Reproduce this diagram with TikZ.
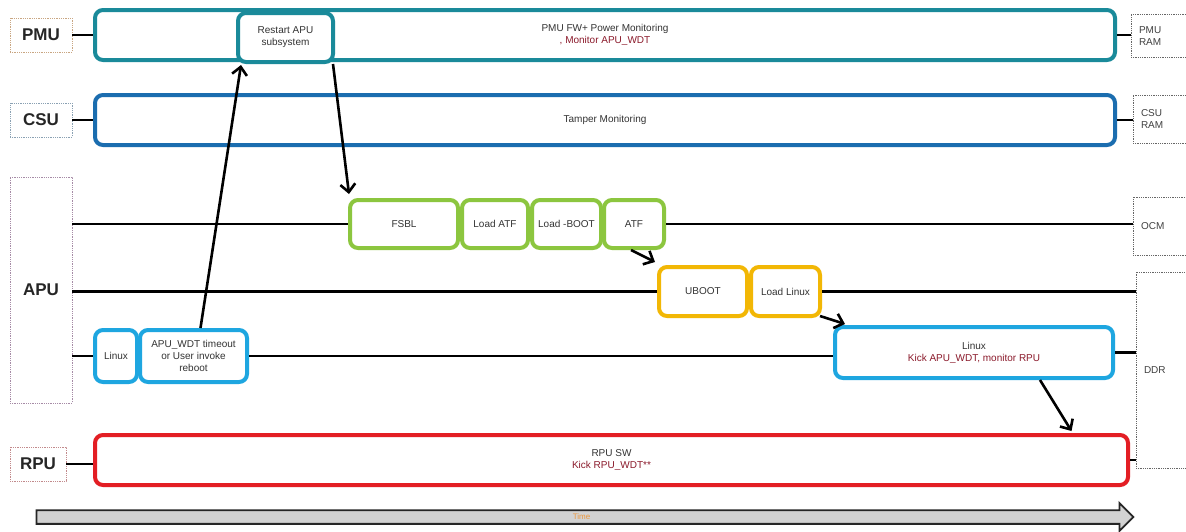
\documentclass[tikz,border=0pt]{standalone}
\usepackage{fontspec}
\setmainfont{Liberation Sans}
\usetikzlibrary{arrows.meta,shapes.arrows,calc}
\definecolor{cteal}{RGB}{26,138,154}
\definecolor{cblue}{RGB}{27,109,175}
\definecolor{cgreen}{RGB}{140,198,63}
\definecolor{cyell}{RGB}{242,183,5}
\definecolor{ccyan}{RGB}{30,166,224}
\definecolor{cred}{RGB}{227,30,36}
\definecolor{dred}{RGB}{139,26,43}
\definecolor{ctime}{RGB}{235,150,60}
\tikzset{
  sm/.style={font=\fontsize{10}{12}\selectfont, align=center, text=black!80},
  lab/.style={draw=gray!70, densely dotted, line width=0.8pt, font=\fontsize{17}{19}\selectfont\bfseries, text=black!85, inner sep=0pt},
  mem/.style={draw=gray!80!black, densely dotted, line width=0.8pt, font=\fontsize{10}{12}\selectfont, text=black!75, inner sep=0pt},
  stage/.style={rounded corners=8pt, line width=4pt, fill=white, sm, inner sep=1pt},
  link/.style={line width=2.8pt, black},
  flow/.style={line width=2.6pt, black, -{Straight Barb[length=8pt,width=15pt,line width=2.6pt]}},
}
\begin{document}
\begin{tikzpicture}[x=1pt,y=-1pt]
\useasboundingbox[fill=white] (0,0) rectangle (1186,531);
% row labels
\node[lab, minimum width=62, minimum height=34, draw=orange!40!gray!70] (pmulab) at (41,35) {PMU};
\node[lab, minimum width=62, minimum height=34, draw=cblue!40!gray!70] (csulab) at (41,120) {CSU};
\node[lab, minimum width=62, minimum height=226, draw=violet!30!gray!70] (apulab) at (41,290) {APU};
\node[lab, minimum width=56, minimum height=34, draw=cred!40!gray!70] (rpulab) at (38,464) {RPU};
% memories
\node[mem, minimum width=60, minimum height=43, text width=44, align=left] (pmuram) at (1161,36) {PMU\\RAM};
\node[mem, minimum width=60, minimum height=48, text width=44, align=left] (csuram) at (1163,119) {CSU\\RAM};
\node[mem, minimum width=60, minimum height=58, text width=44, align=left] (ocm) at (1163,226) {OCM};
\node[mem, minimum width=56, minimum height=196, text width=40, align=left] (ddr) at (1164,370) {DDR};
% big lanes
\node[stage, draw=cteal, minimum width=1020, minimum height=50] (pmu) at (605,35) {PMU FW+ Power Monitoring\\\textcolor{dred}{, Monitor APU\_WDT}};
\node[stage, draw=cblue, minimum width=1020, minimum height=50] (csu) at (605,120) {Tamper Monitoring};
\node[stage, draw=cred, minimum width=1033, minimum height=50] (rpu) at (611.5,460) {RPU SW\\\textcolor{dred}{Kick RPU\_WDT**}};
\node[stage, draw=cteal, minimum width=95, minimum height=49] (restart) at (285.5,37.5) {Restart APU\\subsystem};
% APU stages
\node[stage, draw=cgreen, minimum width=108, minimum height=48] (fsbl) at (404,224) {FSBL};
\node[stage, draw=cgreen, minimum width=66, minimum height=48] (loadatf) at (495,224) {Load ATF};
\node[stage, draw=cgreen, minimum width=69, minimum height=48] (loadboot) at (566.5,224) {Load -BOOT};
\node[stage, draw=cgreen, minimum width=60, minimum height=48] (atf) at (634,224) {ATF};
\node[stage, draw=cyell, minimum width=88, minimum height=49] (uboot) at (703,291.5) {UBOOT};
\node[stage, draw=cyell, minimum width=69, minimum height=49] (loadlinux) at (785.5,291.5) {Load Linux};
\node[stage, draw=ccyan, minimum width=42, minimum height=52] (linuxs) at (116,356) {Linux};
\node[stage, draw=ccyan, minimum width=107, minimum height=52] (apuwdt) at (193.5,356) {APU\_WDT timeout\\or User invoke\\reboot};
\node[stage, draw=ccyan, minimum width=278, minimum height=51] (linuxb) at (974,352.5) {Linux\\\textcolor{dred}{Kick APU\_WDT, monitor RPU}};
% lane links
\draw[link] (pmulab.east) -- (pmu.west);
\draw[link] (pmu.east) -- (pmuram.west |- pmu.east);
\draw[link] (csulab.east) -- (csu.west);
\draw[link] (csu.east) -- (csuram.west |- csu.east);
\draw[link] (rpulab.east) -- (rpu.west |- rpulab.east);
\draw[link] (rpu.east) -- (ddr.west |- rpu.east);
\draw[link] (apulab.east |- fsbl.west) -- (fsbl.west);
\draw[link] (atf.east) -- (ocm.west |- atf.east);
\draw[link] (apulab.east |- uboot.west) -- (uboot.west);
\draw[link] (loadlinux.east) -- (ddr.west |- loadlinux.east);
\draw[link] (apulab.east |- linuxs.west) -- (linuxs.west);
\draw[link] (apuwdt.east) -- (linuxb.west |- apuwdt.east);
\draw[link] (linuxb.east) -- (ddr.west |- linuxb.east);
% flow arrows
\draw[flow] ([xshift=7pt]apuwdt.north) -- ([xshift=5pt,yshift=-1pt]restart.south west);
\draw[flow] ([xshift=-2pt]restart.south east) -- ([xshift=1pt,yshift=4pt]fsbl.north west);
\draw[flow] ([xshift=-3pt]atf.south) -- ([xshift=-2pt,yshift=3pt]uboot.north west);
\draw[flow] ([xshift=-2pt,yshift=2pt]loadlinux.south east) -- ([xshift=12pt,yshift=1pt]linuxb.north west);
\draw[flow] ([xshift=66pt]linuxb.south) -- ([xshift=460pt,yshift=2pt]rpu.north);
% time arrow
\node[single arrow, draw=black!85, line width=1.8pt, fill=gray!35, minimum width=28, minimum height=1097, single arrow head extend=4, single arrow head indent=0, inner sep=0pt, font=\fontsize{8}{9}\selectfont, text=ctime] (time) at (581.5,517) {Time};
\end{tikzpicture}
\end{document}
